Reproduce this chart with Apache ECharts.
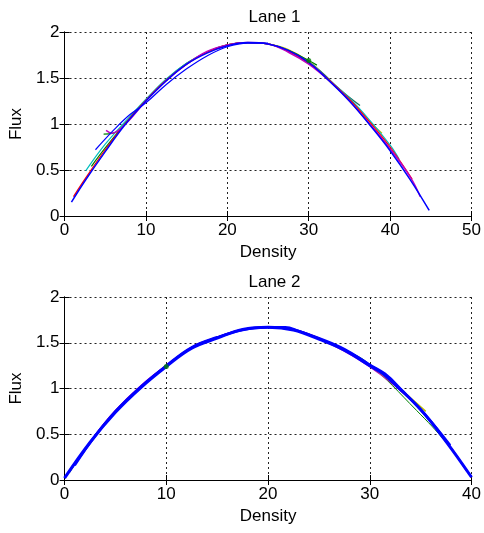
<!DOCTYPE html>
<html><head><meta charset="utf-8">
<script src="https://cdn.jsdelivr.net/npm/echarts@6/dist/echarts.min.js"></script>
<style>html,body{margin:0;padding:0;background:#fff}#c{width:484px;height:533px}</style>
</head><body><div id="c"></div>
<script>
// ---- Lane 1: [density, flux] traces ----
const lane1Blue = [[0.85,0.15],[2.5,0.38],[5,0.70],[7.5,1.00],[10,1.25],[12.5,1.47],[15,1.65],[17.5,1.77],[20,1.85],[22.5,1.885],[25,1.87],[27.5,1.80],[30,1.67],[32.5,1.47],[35,1.25],[37.5,0.99],[40,0.71],[42.5,0.39],[44.8,0.06]];
const lane1Red = [[1.1,0.21],[2.5,0.40],[5,0.72],[7.5,1.01],[10,1.26],[12.5,1.48],[15,1.65],[17.5,1.78],[20,1.86],[22.5,1.885],[25,1.87],[27.5,1.79],[30,1.66],[32.5,1.48],[35,1.27],[37.5,1.02],[40,0.75],[42.7,0.40]];
const lane1Cyan = [[2.6,0.49],[5,0.78],[7.5,1.03],[10,1.27],[12.5,1.49],[15,1.66],[17.5,1.78],[20,1.86],[22.5,1.885],[25,1.87],[27.5,1.79],[30,1.66],[32.5,1.48],[35,1.28],[37.5,1.04],[40,0.77],[41.1,0.62]];
const lane1Blue2 = [[3.8,0.72],[6,0.93],[8,1.10],[10,1.23],[12.5,1.43],[15,1.60],[17.5,1.74],[20,1.84],[22.5,1.88],[25,1.88]];
const lane1Magenta = [[5.1,0.93],[5.8,0.90],[7.5,1.00],[10,1.25],[12.5,1.47],[15,1.65],[17.5,1.79],[20,1.86],[22.5,1.885],[25,1.87],[27.5,1.78],[30,1.65],[32.5,1.47],[35,1.25],[37.5,1.00],[40,0.73],[42.5,0.42],[43.7,0.21]];
const lane1Green = [[4.8,0.89],[6,0.90],[7.5,1.01],[10,1.26],[12.5,1.48],[15,1.66],[17.5,1.78],[20,1.86],[22.5,1.885],[25,1.87],[27.5,1.80],[30,1.69],[31,1.64]];
const lane1Green2 = [[3.3,0.54],[5,0.74],[7.5,1.01],[10,1.25]];
const lane1Yellow = [[20,1.86],[22.5,1.885],[25,1.87],[27.5,1.81],[30,1.68],[32.5,1.47],[35,1.27],[37,1.07],[39,0.90]];
const lane1Dark = [[27,1.82],[30,1.68],[32,1.53],[33.5,1.40],[36.3,1.20]];
const lane1Dot = [[30,1.69]];

// ---- Lane 2: [density, flux] traces ----
const lane2Red = [[3,0.48],[5,0.75],[7.5,1.02],[10,1.25],[12.5,1.45],[15,1.56],[17.5,1.645],[20,1.67],[22.5,1.645],[25,1.55],[27.5,1.42],[30,1.25],[32.5,1.03],[35,0.77],[37.5,0.42],[40,0.03]];
const lane2Green = [[0.5,0.08],[2.5,0.41],[5,0.74],[7.5,1.01],[10,1.24],[12.5,1.44],[15,1.55],[17.5,1.64],[20,1.67],[22.5,1.64],[25,1.54],[27.5,1.42],[29.8,1.28],[34.6,0.76],[37.5,0.41],[40,0.03]];
const lane2Magenta = [[3,0.49],[5,0.76],[7.5,1.03],[10,1.25],[12.5,1.45],[15,1.56],[17.5,1.645],[20,1.67],[22.5,1.64],[25,1.54],[27.5,1.41],[30,1.24],[32.5,1.03],[35,0.77],[37.8,0.38],[39.5,0.10]];
const lane2Yellow = [[20,1.67],[22.5,1.64],[25,1.54],[27.5,1.42],[30,1.25],[32.5,1.04],[35.5,0.75]];
const lane2Blue = [[0,0.02],[2.5,0.41],[5,0.74],[7.5,1.01],[10,1.24],[12.5,1.44],[15,1.55],[17.5,1.645],[20,1.67],[22.5,1.64],[25,1.54],[27.5,1.42],[30,1.25],[31.3,1.16],[32.8,1.01],[35,0.77],[37.5,0.42],[40,0.03]];
const lane2Blue2 = [[1,0.16],[3,0.48],[5,0.75],[7.5,1.02],[10,1.25],[12.5,1.45],[15,1.56],[17.5,1.64],[20,1.67],[21.7,1.67],[23,1.63],[25,1.55],[27.5,1.43],[30,1.26],[31.5,1.16],[33,1.00],[35.7,0.68],[37.9,0.38]];
const lane2Dot = [[10,1.24]];

// ---- axes ----
const lane1XTicks = {min:0, max:50, interval:10};
const lane2XTicks = {min:0, max:40, interval:10};
const fluxTicks = {min:0, max:2, interval:0.5};

const FONT = 'Liberation Sans';
const FS = 17;

function xAx(g, t, name) {
  return {type:'value', gridIndex:g, min:t.min, max:t.max, interval:t.interval, position:'bottom',
    name:name, nameLocation:'middle', nameGap:28,
    nameTextStyle:{fontFamily:FONT, fontSize:FS, color:'#000'},
    axisLine:{lineStyle:{color:'#000', width:1}},
    axisTick:{inside:true, length:5, lineStyle:{color:'#000'}},
    axisLabel:{margin:6, fontFamily:FONT, fontSize:FS, color:'#000'},
    splitLine:{show:true, lineStyle:{type:[2,3], color:'#222', width:1}}};
}
function xAxTop(g, t) {
  return {type:'value', gridIndex:g, min:t.min, max:t.max, interval:t.interval, position:'top',
    axisLine:{lineStyle:{color:'#000'}}, axisTick:{inside:true, length:5, lineStyle:{color:'#000'}},
    axisLabel:{show:false}, splitLine:{show:false}};
}
function yAx(g, t, name) {
  return {type:'value', gridIndex:g, min:t.min, max:t.max, interval:t.interval, position:'left',
    name:name, nameLocation:'middle', nameGap:38, nameRotate:90,
    nameTextStyle:{fontFamily:FONT, fontSize:FS, color:'#000'},
    axisLine:{show:true, lineStyle:{color:'#000', width:1}},
    axisTick:{show:true, inside:true, length:5, lineStyle:{color:'#000'}},
    axisLabel:{margin:5, fontFamily:FONT, fontSize:FS, color:'#000'},
    splitLine:{show:true, lineStyle:{type:[2,3], color:'#222', width:1}}};
}
function yAxRight(g, t) {
  return {type:'value', gridIndex:g, min:t.min, max:t.max, interval:t.interval, position:'right',
    axisLine:{show:true, lineStyle:{color:'#000'}}, axisTick:{show:true, inside:true, length:5, lineStyle:{color:'#000'}},
    axisLabel:{show:false}, splitLine:{show:false}};
}
function ln(data, color, axis, width) {
  return {type:'line', data:data, xAxisIndex:axis, yAxisIndex:axis, showSymbol:false, symbol:'none',
    smooth:0.4,
    lineStyle:{color:color, width:width||1}, itemStyle:{color:color}, animation:false, silent:true, z:3};
}
function dot(data, color, axis) {
  return {type:'scatter', data:data, xAxisIndex:axis, yAxisIndex:axis, symbolSize:5,
    itemStyle:{color:color}, animation:false, silent:true, z:4};
}

const chart = echarts.init(document.getElementById('c'), null, {renderer:'canvas'});
chart.setOption({
  backgroundColor:'#fff',
  animation:false,
  title:[
    {text:'Lane 1', left:269.5, top:4, textAlign:'center', textStyle:{fontFamily:FONT, fontSize:FS, fontWeight:'normal', color:'#000'}},
    {text:'Lane 2', left:269.5, top:269, textAlign:'center', textStyle:{fontFamily:FONT, fontSize:FS, fontWeight:'normal', color:'#000'}}
  ],
  grid:[
    {left:64, top:32, width:411, height:184, show:false},
    {left:64, top:297, width:411, height:183, show:false}
  ],
  xAxis:[xAx(0, lane1XTicks, 'Density'), xAx(1, lane2XTicks, 'Density'), xAxTop(0, lane1XTicks), xAxTop(1, lane2XTicks)],
  yAxis:[yAx(0, fluxTicks, 'Flux'), yAx(1, fluxTicks, 'Flux'), yAxRight(0, fluxTicks), yAxRight(1, fluxTicks)],
  series:[
    ln(lane1Dark, '#1f6f5f', 0, 1.2),
    ln(lane1Yellow, '#bfbf00', 0, 1.2),
    ln(lane1Green2, '#008000', 0, 1.2),
    ln(lane1Green, '#008000', 0, 1.2),
    ln(lane1Cyan, '#00bfbf', 0, 1.2),
    ln(lane1Red, '#ff0000', 0, 1.2),
    ln(lane1Magenta, '#bf00bf', 0, 1.5),
    ln(lane1Blue2, '#0000ff', 0, 1.2),
    ln(lane1Blue, '#0000ff', 0, 1.5),
    dot(lane1Dot, '#008000', 0),
    ln(lane2Red, '#ff0000', 1, 1.5),
    ln(lane2Green, '#008000', 1, 1),
    ln(lane2Magenta, '#bf00bf', 1, 1.5),
    ln(lane2Yellow, '#bfbf00', 1, 1.5),
    ln(lane2Blue, '#0000ff', 1, 3),
    ln(lane2Blue2, '#0000ff', 1, 2.5),
    dot(lane2Dot, '#008000', 1)
  ]
});
</script></body></html>
